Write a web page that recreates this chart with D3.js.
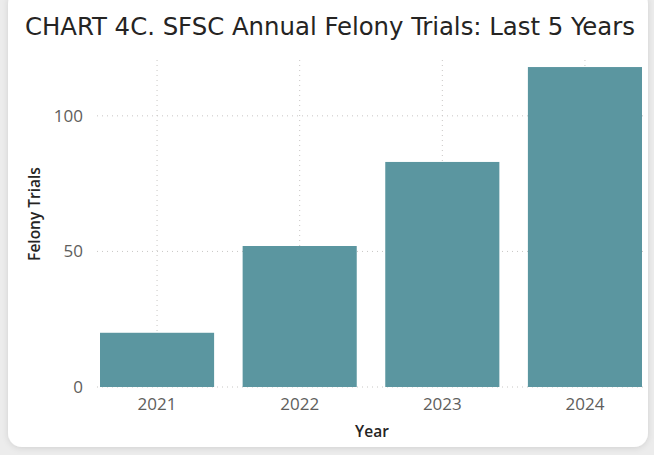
<!DOCTYPE html>
<html>
<head>
<meta charset="utf-8">
<script src="https://cdn.jsdelivr.net/npm/d3@7"></script>
<style>
  html, body { margin: 0; padding: 0; background: #ececec; }
  #wrapper { width: 654px; height: 455px; }
</style>
</head>
<body>
<div id="wrapper"></div>
<script>
const years = ["2021", "2022", "2023", "2024"];
const trials = [20, 52, 83, 118];
const yTicks = [0, 50, 100];

const width = 654;
const height = 455;

const svg = d3.select("#wrapper")
    .append("svg")
    .attr("width", width)
    .attr("height", height);

// card background with soft shadow
const defs = svg.append("defs");
const shadow = defs.append("filter")
    .attr("id", "shadow")
    .attr("x", "-5%").attr("y", "-5%")
    .attr("width", "110%").attr("height", "110%");
shadow.append("feDropShadow")
    .attr("dx", 0).attr("dy", 1)
    .attr("stdDeviation", 3)
    .attr("flood-color", "#000")
    .attr("flood-opacity", 0.12);

svg.append("rect")
    .attr("x", 8)
    .attr("y", -10)
    .attr("width", 640)
    .attr("height", 457)
    .attr("rx", 14)
    .attr("fill", "#fff")
    .attr("filter", "url(#shadow)");

// title
svg.append("text")
    .attr("x", 25)
    .attr("y", 35)
    .attr("fill", "#252423")
    .style("font-family", "'DejaVu Sans Condensed', 'DejaVu Sans', sans-serif")
    .style("font-size", "25px")
    .attr("textLength", 610)
    .attr("lengthAdjust", "spacingAndGlyphs")
    .text("CHART 4C. SFSC Annual Felony Trials: Last 5 Years");

// scales
const xScale = d3.scaleBand()
    .domain(years)
    .range([100, 642])
    .paddingInner(0.2)
    .paddingOuter(0);

const yScale = d3.scaleLinear()
    .domain([0, 120.6])
    .range([387, 60]);

const grid = svg.append("g");

// horizontal gridlines
grid.selectAll("line.h")
    .data(yTicks)
    .join("line")
    .attr("class", "h")
    .attr("x1", 97)
    .attr("x2", 645)
    .attr("y1", d => yScale(d))
    .attr("y2", d => yScale(d))
    .attr("stroke", "#c8c6c4")
    .attr("stroke-width", 1)
    .attr("stroke-dasharray", "1,4");

// vertical gridlines at category centres
grid.selectAll("line.v")
    .data(years)
    .join("line")
    .attr("class", "v")
    .attr("x1", d => xScale(d) + xScale.bandwidth() / 2)
    .attr("x2", d => xScale(d) + xScale.bandwidth() / 2)
    .attr("y1", yScale.range()[1])
    .attr("y2", yScale(0))
    .attr("stroke", "#c8c6c4")
    .attr("stroke-width", 1)
    .attr("stroke-dasharray", "1,4");

// bars
svg.append("g")
    .selectAll("rect")
    .data(years)
    .join("rect")
    .attr("x", d => xScale(d))
    .attr("width", xScale.bandwidth())
    .attr("y", (d, i) => yScale(trials[i]))
    .attr("height", (d, i) => yScale(0) - yScale(trials[i]))
    .attr("fill", "#5b96a0");

// axes
const yAxis = svg.append("g")
    .attr("transform", "translate(91,0)")
    .call(d3.axisLeft(yScale).tickValues(yTicks).tickSize(0).tickPadding(8));
yAxis.select(".domain").remove();
yAxis.selectAll("text")
    .attr("fill", "#605e5c")
    .style("font-family", "'Open Sans', 'Noto Sans', sans-serif")
    .style("font-size", "17px");

const xAxis = svg.append("g")
    .attr("transform", `translate(0,${yScale(0)})`)
    .call(d3.axisBottom(xScale).tickSize(0).tickPadding(11));
xAxis.select(".domain").remove();
xAxis.selectAll("text")
    .attr("fill", "#605e5c")
    .style("font-family", "'Open Sans', 'Noto Sans', sans-serif")
    .style("font-size", "17px");

// axis titles
svg.append("text")
    .attr("x", 372)
    .attr("y", 437)
    .attr("text-anchor", "middle")
    .attr("fill", "#252423")
    .style("font-family", "'Open Sans', 'Noto Sans', sans-serif")
    .style("font-size", "15.5px")
    .style("font-weight", 600)
    .text("Year");

svg.append("text")
    .attr("transform", "translate(40,214) rotate(-90)")
    .attr("text-anchor", "middle")
    .attr("fill", "#252423")
    .style("font-family", "'Open Sans', 'Noto Sans', sans-serif")
    .style("font-size", "15.5px")
    .style("font-weight", 600)
    .text("Felony Trials");
</script>
</body>
</html>
